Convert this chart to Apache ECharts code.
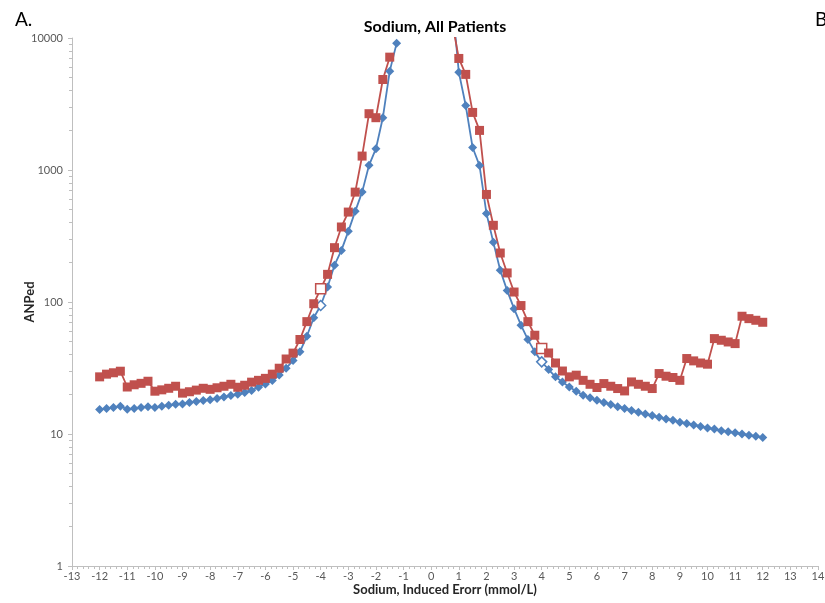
<!DOCTYPE html>
<html>
<head>
<meta charset="utf-8">
<script src="https://cdn.jsdelivr.net/npm/echarts@6/dist/echarts.min.js"></script>
<style>
  html, body { margin: 0; padding: 0; background: #ffffff; }
  #chart { width: 825px; height: 603px; }
</style>
</head>
<body>
<div id="chart"></div>
<script>
// Induced sodium error (mmol/L), negative side
const errorLeft = [-12, -11.75, -11.5, -11.25, -11, -10.75, -10.5, -10.25, -10, -9.75, -9.5, -9.25,
  -9, -8.75, -8.5, -8.25, -8, -7.75, -7.5, -7.25, -7, -6.75, -6.5, -6.25, -6, -5.75, -5.5, -5.25,
  -5, -4.75, -4.5, -4.25, -4, -3.75, -3.5, -3.25, -3, -2.75, -2.5, -2.25, -2, -1.75, -1.5, -1.25];
// Induced sodium error (mmol/L), positive side
const errorRight = [0.75, 1, 1.25, 1.5, 1.75, 2, 2.25, 2.5, 2.75, 3, 3.25, 3.5, 3.75, 4, 4.25, 4.5,
  4.75, 5, 5.25, 5.5, 5.75, 6, 6.25, 6.5, 6.75, 7, 7.25, 7.5, 7.75, 8, 8.25, 8.5, 8.75, 9, 9.25,
  9.5, 9.75, 10, 10.25, 10.5, 10.75, 11, 11.25, 11.5, 11.75, 12];

// ANPed, smooth (blue diamond) series
const blueLeft = [15.3, 15.6, 15.9, 16.2, 15.4, 15.6, 15.9, 16.1, 15.9, 16.2, 16.5, 16.8,
  16.9, 17.3, 17.6, 17.9, 18.2, 18.6, 19.1, 19.6, 20.0, 20.6, 21.4, 22.6, 23.9, 25.4, 28.0, 31.5,
  36, 42, 55, 76, 94, 130, 190, 246, 343, 486, 680, 1085, 1450, 2490, 5610, 9140];
const blueRight = [20000, 5510, 3080, 1480, 1080, 469, 283, 174, 122, 89, 66.7, 51.9, 41.9, 35.2,
  30.8, 27.1, 24.8, 22.7, 21.1, 19.7, 18.8, 18.0, 17.3, 16.7, 16.1, 15.6, 15.1, 14.6, 14.2, 13.8,
  13.4, 13.0, 12.7, 12.3, 12.0, 11.7, 11.4, 11.1, 10.9, 10.6, 10.4, 10.2, 10.0, 9.8, 9.6, 9.4];

// ANPed, stepped (red square) series
const redLeft = [27.1, 28.4, 29.1, 29.9, 22.7, 23.6, 24.2, 25.1, 21.1, 21.6, 22.2, 23.0,
  20.4, 20.9, 21.5, 22.2, 21.8, 22.4, 23.0, 23.8, 22.6, 23.4, 24.7, 25.5, 26.4, 28.4, 31.5, 37,
  41, 52, 71, 97, 126, 162, 258, 370, 480, 680, 1275, 2670, 2490, 4850, 7160, null];
const redRight = [13500, 7000, 5300, 2730, 1995, 653, 381, 235, 166, 119, 94, 71, 56, 44.4,
  41.1, 34.5, 30.0, 27.1, 27.9, 25.5, 23.8, 22.5, 24.1, 23.0, 22.1, 21.2, 24.8, 23.8, 23.0, 22.1,
  28.7, 27.4, 26.8, 25.5, 37.3, 35.8, 34.5, 33.8, 52.8, 51.3, 49.8, 48.4, 78.0, 74.8, 72.7, 70.2];

// Errors whose markers are drawn hollow
const hollowAt = [-4, 4];

const yTicks = [1, 10, 100, 1000, 10000];

const BLUE = '#4F81BD';
const RED = '#C0504D';
const FONT = 'Lato';

function buildPoints(xs, ys, color) {
  const out = [];
  xs.forEach(function (x, i) {
    const y = ys[i];
    if (y === null || y === undefined) return;
    if (hollowAt.indexOf(x) >= 0) {
      out.push({
        value: [x, y],
        symbolSize: 10,
        itemStyle: { color: '#ffffff', borderColor: color, borderWidth: 1.5 }
      });
    } else {
      out.push([x, y]);
    }
  });
  return out;
}

function lineSeries(data, color, symbol, size) {
  return {
    type: 'line',
    data: data,
    symbol: symbol,
    symbolSize: size,
    showAllSymbol: true,
    clip: true,
    lineStyle: { color: color, width: 1.8 },
    itemStyle: { color: color },
    emphasis: { disabled: true },
    animation: false
  };
}

const chart = echarts.init(document.getElementById('chart'), null, { renderer: 'canvas' });

chart.setOption({
  backgroundColor: '#ffffff',
  animation: false,
  title: [
    {
      text: 'Sodium, All Patients',
      left: 430, top: 14, textAlign: 'center',
      textStyle: { fontFamily: FONT, fontSize: 16, fontWeight: 'bold', color: '#000000' }
    },
    {
      text: 'A.',
      left: 10, top: 5,
      textStyle: { fontFamily: FONT, fontSize: 19, fontWeight: 'normal', color: '#000000' }
    },
    {
      text: 'B',
      left: 810, top: 5,
      textStyle: { fontFamily: FONT, fontSize: 19, fontWeight: 'normal', color: '#000000' }
    }
  ],
  grid: { left: 72, right: 7, top: 38, bottom: 37, containLabel: false, outerBoundsMode: 'none' },
  xAxis: {
    type: 'value',
    min: -13, max: 14, interval: 1,
    name: 'Sodium, Induced Erorr (mmol/L)',
    nameLocation: 'middle',
    nameGap: 17,
    nameMoveOverlap: false,
    nameTextStyle: { fontFamily: FONT, fontSize: 13, fontWeight: 'bold', color: '#262626' },
    axisLine: { show: true, onZero: false, lineStyle: { color: '#BFBFBF', width: 1 } },
    axisTick: { show: true, length: 4, lineStyle: { color: '#BFBFBF' } },
    minorTick: { show: true, splitNumber: 5, length: 3, lineStyle: { color: '#BFBFBF' } },
    axisLabel: { fontFamily: FONT, fontSize: 11, color: '#595959', margin: 5, showMinLabel: true, showMaxLabel: true },
    splitLine: { show: false }
  },
  yAxis: {
    type: 'log',
    logBase: 10,
    min: yTicks[0], max: yTicks[yTicks.length - 1],
    name: 'ANPed',
    nameLocation: 'middle',
    nameGap: 36,
    nameRotate: 90,
    nameMoveOverlap: false,
    nameTextStyle: { fontFamily: FONT, fontSize: 13, fontWeight: 'bold', color: '#262626' },
    axisLine: { show: true, onZero: false, lineStyle: { color: '#BFBFBF', width: 1 } },
    axisTick: { show: true, length: 4, lineStyle: { color: '#BFBFBF' } },
    minorTick: { show: true, splitNumber: 9, length: 3, lineStyle: { color: '#BFBFBF' } },
    axisLabel: {
      fontFamily: FONT, fontSize: 11, color: '#595959', margin: 9,
      formatter: function (v) { return String(Math.round(v)); }
    },
    splitLine: { show: false }
  },
  series: [
    lineSeries(buildPoints(errorLeft, blueLeft, BLUE), BLUE, 'diamond', 9),
    lineSeries(buildPoints(errorRight, blueRight, BLUE), BLUE, 'diamond', 9),
    lineSeries(buildPoints(errorLeft, redLeft, RED), RED, 'rect', 9),
    lineSeries(buildPoints(errorRight, redRight, RED), RED, 'rect', 9)
  ]
});
</script>
</body>
</html>
